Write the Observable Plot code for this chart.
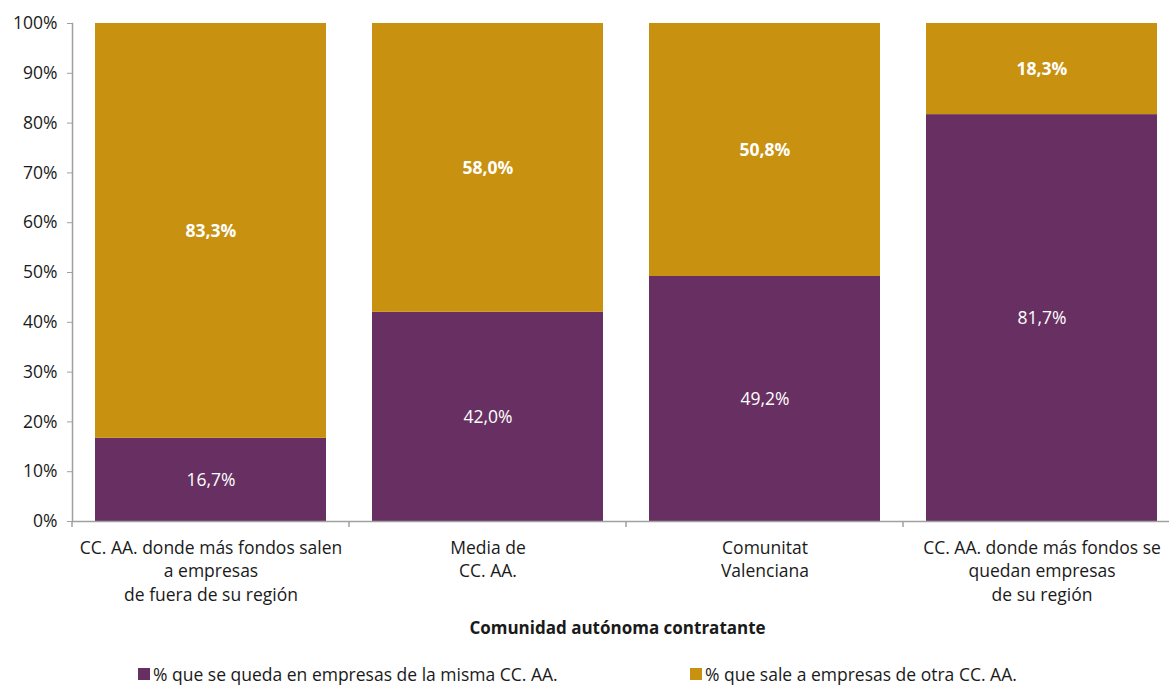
<!DOCTYPE html>
<html><head><meta charset="utf-8">
<script src="https://cdn.jsdelivr.net/npm/d3@7"></script>
<script src="https://cdn.jsdelivr.net/npm/@observablehq/plot@0.6"></script>
<style>
html,body{margin:0;padding:0;background:#fff;}
body{width:1169px;height:688px;overflow:hidden;font-family:"Open Sans","Noto Sans",sans-serif;}
#chart svg{overflow:hidden;display:block;}
.legend{position:relative;height:38px;font-size:17.5px;color:#1a1a1a;}
.legend .item{position:absolute;top:13px;line-height:22px;display:flex;align-items:center;white-space:nowrap;}
.legend .sw{width:12px;height:12px;margin-right:3px;}
</style></head><body>
<div id="chart"></div>
<div class="legend" id="legend"></div>
<script>
const categories = [
  "CC. AA. donde más fondos salen\na empresas\nde fuera de su región",
  "Media de\nCC. AA.",
  "Comunitat\nValenciana",
  "CC. AA. donde más fondos se\nquedan empresas\nde su región"
];
const seriesNames = ["% que se queda en empresas de la misma CC. AA.", "% que sale a empresas de otra CC. AA."];
const sameRegion = [16.7, 42.0, 49.2, 81.7];
const otherRegion = [83.3, 58.0, 50.8, 18.3];
const yTicks = [0, 10, 20, 30, 40, 50, 60, 70, 80, 90, 100];
const seriesColors = ["#683062", "#C89110"];
const axisTitle = "Comunidad autónoma contratante";

const data = [];
categories.forEach((c, i) => {
  data.push({cat: c, series: seriesNames[0], value: sameRegion[i], base: 0});
  data.push({cat: c, series: seriesNames[1], value: otherRegion[i], base: sameRegion[i]});
});
const fmt = v => v.toFixed(1).replace(".", ",") + "%";

const boundaryTicks = (index, scales, values, dims) => {
  const sx = scales.x;
  const step = sx.step ? sx.step() : scales.scales.x.step;
  const bw = sx.bandwidth ? sx.bandwidth() : scales.scales.x.bandwidth;
  const y0 = dims.height - dims.marginBottom;
  const g = d3.create("svg:g").attr("stroke", "#A0A0A0").attr("stroke-width", 1.5);
  categories.forEach(c => {
    const xb = sx(c) - (step - bw) / 2;
    g.append("line").attr("x1", xb).attr("x2", xb).attr("y1", y0).attr("y2", y0 + 6);
  });
  const last = categories[categories.length - 1];
  const xe = sx(last) + bw + (step - bw) / 2;
  g.append("line").attr("x1", xe).attr("x2", xe).attr("y1", y0).attr("y2", y0 + 6);
  return g.node();
};

const chart = Plot.plot({
  width: 1169,
  height: 650,
  marginLeft: 72,
  marginRight: -11,
  marginTop: 23,
  marginBottom: 129,
  style: {fontFamily: '"Open Sans","Noto Sans",sans-serif', fontSize: "17.5px", background: "#fff"},
  x: {domain: categories, paddingInner: 0.166, paddingOuter: 0.083, label: null},
  y: {domain: [0, 100], label: null},
  color: {domain: seriesNames, range: seriesColors},
  marks: [
    Plot.barY(data, {x: "cat", y: "value", fill: "series", order: seriesNames}),
    Plot.text(data.filter(d => d.series === seriesNames[0]), {
      x: "cat", y: d => d.base + d.value / 2, text: d => fmt(d.value),
      fill: "white", fontSize: 17.5
    }),
    Plot.text(data.filter(d => d.series === seriesNames[1]), {
      x: "cat", y: d => d.base + d.value / 2, text: d => fmt(d.value),
      fill: "white", fontSize: 17.5, fontWeight: "bold"
    }),
    Plot.axisY({ticks: yTicks, tickFormat: d => d + "%", tickSize: 5, tickPadding: 10,
      stroke: "#A0A0A0", fill: "#1a1a1a", fontSize: 17.5, label: null}),
    Plot.axisX({tickSize: 0, tickPadding: 15, fill: "#1a1a1a", fontSize: 17.5, lineHeight: 1.37, label: null}),
    Plot.ruleY([0], {stroke: "#A0A0A0", strokeWidth: 1.5}),
    Plot.frame({anchor: "left", stroke: "#A0A0A0", strokeWidth: 1.5}),
    boundaryTicks,
    Plot.text([axisTitle], {frameAnchor: "bottom", dy: 112, dx: -9, fontWeight: "bold", fontSize: 17, fill: "#1a1a1a"})
  ]
});
document.getElementById("chart").appendChild(chart);

const legend = document.getElementById("legend");
const legendLeft = [138, 690];
seriesNames.forEach((s, i) => {
  const it = document.createElement("div");
  it.className = "item";
  it.style.left = legendLeft[i] + "px";
  const sw = document.createElement("span");
  sw.className = "sw";
  sw.style.background = seriesColors[i];
  const tx = document.createElement("span");
  tx.textContent = s;
  it.appendChild(sw); it.appendChild(tx);
  legend.appendChild(it);
});
</script>
</body></html>
